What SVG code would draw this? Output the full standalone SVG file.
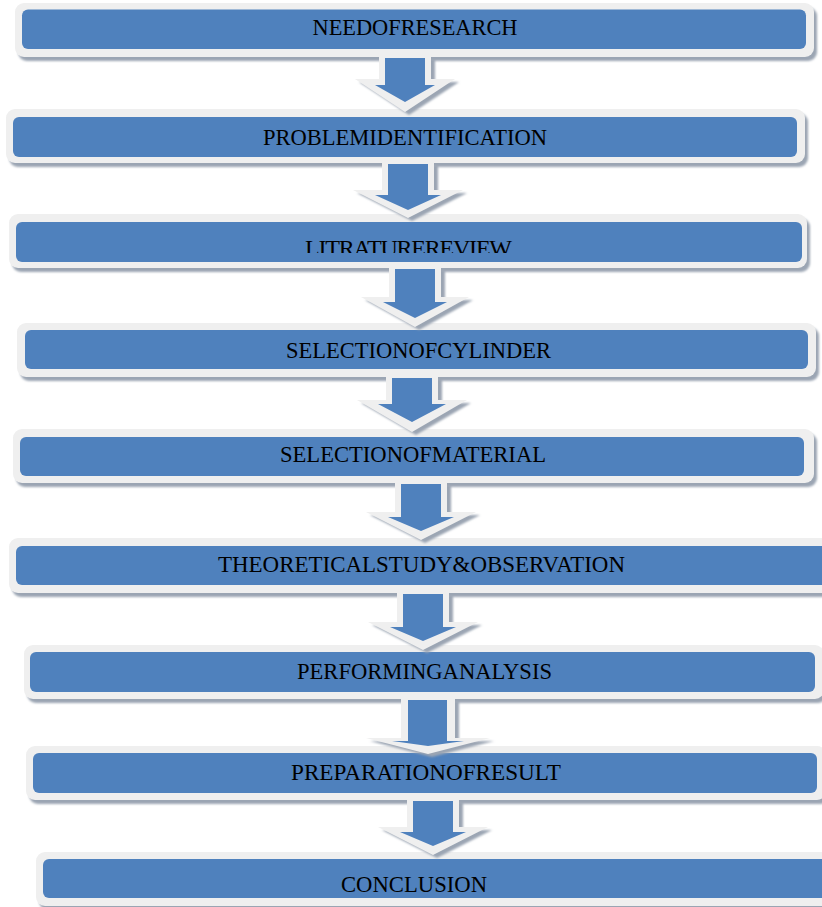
<svg xmlns="http://www.w3.org/2000/svg" width="822" height="907" viewBox="0 0 822 907">
<defs>
<filter id="blur" x="-10%" y="-10%" width="120%" height="130%"><feGaussianBlur stdDeviation="1"/></filter>
<clipPath id="clip3"><rect x="0" y="214" width="822" height="39"/></clipPath>
</defs>
<style>
.sh{fill:#9ba5b3;filter:url(#blur)}
.fr{fill:#efefef}
.bl{fill:#4f81bd}
.t{font-family:"Liberation Serif","Times New Roman",serif;font-size:24px;fill:#000000;text-anchor:middle}
.ash{fill:#9ba5b3;filter:url(#blur)}
.aw{fill:#efefef}
.ab{fill:#4f81bd}
</style>
<rect width="822" height="907" fill="#ffffff"/>

<g id="node1">
<rect class="sh" x="18" y="7" width="799" height="54" rx="9"/>
<rect class="fr" x="15" y="3" width="799" height="54" rx="9"/>
<rect class="bl" x="22" y="9.5" width="784" height="39.5" rx="6"/>
<text class="t" x="415" y="35" textLength="205" lengthAdjust="spacingAndGlyphs">NEEDOFRESEARCH</text>
</g>
<g id="node2">
<rect class="sh" x="9" y="113" width="799" height="54" rx="9"/>
<rect class="fr" x="6" y="109" width="799" height="54" rx="9"/>
<rect class="bl" x="13" y="117" width="784" height="40" rx="6"/>
<text class="t" x="405" y="145" textLength="284" lengthAdjust="spacingAndGlyphs">PROBLEMIDENTIFICATION</text>
</g>
<g id="node3">
<rect class="sh" x="12" y="218" width="798" height="54" rx="9"/>
<rect class="fr" x="9" y="214" width="798" height="54" rx="9"/>
<rect class="bl" x="16" y="222" width="786" height="40" rx="6"/>
<text class="t" x="408.5" y="256" textLength="207" clip-path="url(#clip3)">LITRATUREREVIEW</text>
</g>
<g id="node4">
<rect class="sh" x="20" y="327" width="799" height="54" rx="9"/>
<rect class="fr" x="17" y="323" width="799" height="54" rx="9"/>
<rect class="bl" x="25" y="330" width="783" height="39" rx="6"/>
<text class="t" x="418.5" y="358" textLength="265" lengthAdjust="spacingAndGlyphs">SELECTIONOFCYLINDER</text>
</g>
<g id="node5">
<rect class="sh" x="16" y="433" width="801" height="54" rx="9"/>
<rect class="fr" x="13" y="429" width="801" height="54" rx="9"/>
<rect class="bl" x="20" y="437" width="784" height="39" rx="6"/>
<text class="t" x="413" y="462" textLength="266" lengthAdjust="spacingAndGlyphs">SELECTIONOFMATERIAL</text>
</g>
<g id="node6">
<rect class="sh" x="12" y="542" width="830" height="55" rx="9"/>
<rect class="fr" x="9" y="538" width="830" height="55" rx="9"/>
<rect class="bl" x="16" y="546" width="816" height="39" rx="6"/>
<text class="t" x="421.5" y="572" textLength="407" lengthAdjust="spacingAndGlyphs">THEORETICALSTUDY&amp;OBSERVATION</text>
</g>
<g id="node7">
<rect class="sh" x="27" y="649" width="800" height="54" rx="9"/>
<rect class="fr" x="24" y="645" width="800" height="54" rx="9"/>
<rect class="bl" x="30" y="652" width="785" height="40" rx="6"/>
<text class="t" x="424.5" y="679" textLength="255" lengthAdjust="spacingAndGlyphs">PERFORMINGANALYSIS</text>
</g>
<g id="node8">
<rect class="sh" x="29" y="750" width="800" height="54" rx="9"/>
<rect class="fr" x="26" y="746" width="800" height="54" rx="9"/>
<rect class="bl" x="33" y="753" width="784" height="40" rx="6"/>
<text class="t" x="426" y="780" textLength="270" lengthAdjust="spacingAndGlyphs">PREPARATIONOFRESULT</text>
</g>
<g id="node9">
<rect class="sh" x="39" y="856" width="800" height="54" rx="9"/>
<rect class="fr" x="36" y="852" width="800" height="54" rx="9"/>
<rect class="bl" x="43" y="859" width="790" height="39" rx="6"/>
<text class="t" x="414" y="892" textLength="146" lengthAdjust="spacingAndGlyphs">CONCLUSION</text>
</g>

<g id="connectors">
<g id="arrow1">
<path class="ash" transform="translate(4,3)" d="M379,56 H431 V79 H455 L405,112 L355,79 H379 Z"/>
<path class="aw" d="M379,56 H431 V79 H455 L405,112 L355,79 H379 Z"/>
<path class="ab" d="M385,58 H425 V85 H435 L405,102 L375,85 H385 Z"/>
</g>
<g id="arrow2">
<path class="ash" transform="translate(4,3)" d="M382,162 H434 V190 H463 L408,218 L353,190 H382 Z"/>
<path class="aw" d="M382,162 H434 V190 H463 L408,218 L353,190 H382 Z"/>
<path class="ab" d="M388,164 H428 V195 H441 L408,210 L375,195 H388 Z"/>
</g>
<g id="arrow3">
<path class="ash" transform="translate(4,3)" d="M389,267 H441 V297 H469 L415,327 L361,297 H389 Z"/>
<path class="aw" d="M389,267 H441 V297 H469 L415,327 L361,297 H389 Z"/>
<path class="ab" d="M395,269 H435 V302 H447 L415,318 L383,302 H395 Z"/>
</g>
<g id="arrow4">
<path class="ash" transform="translate(4,3)" d="M386,376 H438 V400 H467 L412,432 L357,400 H386 Z"/>
<path class="aw" d="M386,376 H438 V400 H467 L412,432 L357,400 H386 Z"/>
<path class="ab" d="M392,378 H432 V404 H446 L412,422 L378,404 H392 Z"/>
</g>
<g id="arrow5">
<path class="ash" transform="translate(4,3)" d="M395,482 H447 V512 H476 L421,540 L366,512 H395 Z"/>
<path class="aw" d="M395,482 H447 V512 H476 L421,540 L366,512 H395 Z"/>
<path class="ab" d="M401,484 H441 V517 H454 L421,531 L388,517 H401 Z"/>
</g>
<g id="arrow6">
<path class="ash" transform="translate(4,3)" d="M397,592 H449 V622 H478 L423,650 L368,622 H397 Z"/>
<path class="aw" d="M397,592 H449 V622 H478 L423,650 L368,622 H397 Z"/>
<path class="ab" d="M403,594 H443 V627 H456 L423,641 L390,627 H403 Z"/>
</g>
<g id="arrow7">
<path class="ash" transform="translate(4,3)" d="M401,698 H455 V738 H490 L428,754 L366,738 H401 Z"/>
<path class="aw" d="M401,698 H455 V738 H490 L428,754 L366,738 H401 Z"/>
<path class="ab" d="M408,700 H447 V741 H464 L428,746 L392,741 H408 Z"/>
</g>
<g id="arrow8">
<path class="ash" transform="translate(4,3)" d="M407,799 H459 V827 H488 L433,855 L378,827 H407 Z"/>
<path class="aw" d="M407,799 H459 V827 H488 L433,855 L378,827 H407 Z"/>
<path class="ab" d="M413,801 H453 V832 H466 L433,846 L400,832 H413 Z"/>
</g>
</g>
</svg>
